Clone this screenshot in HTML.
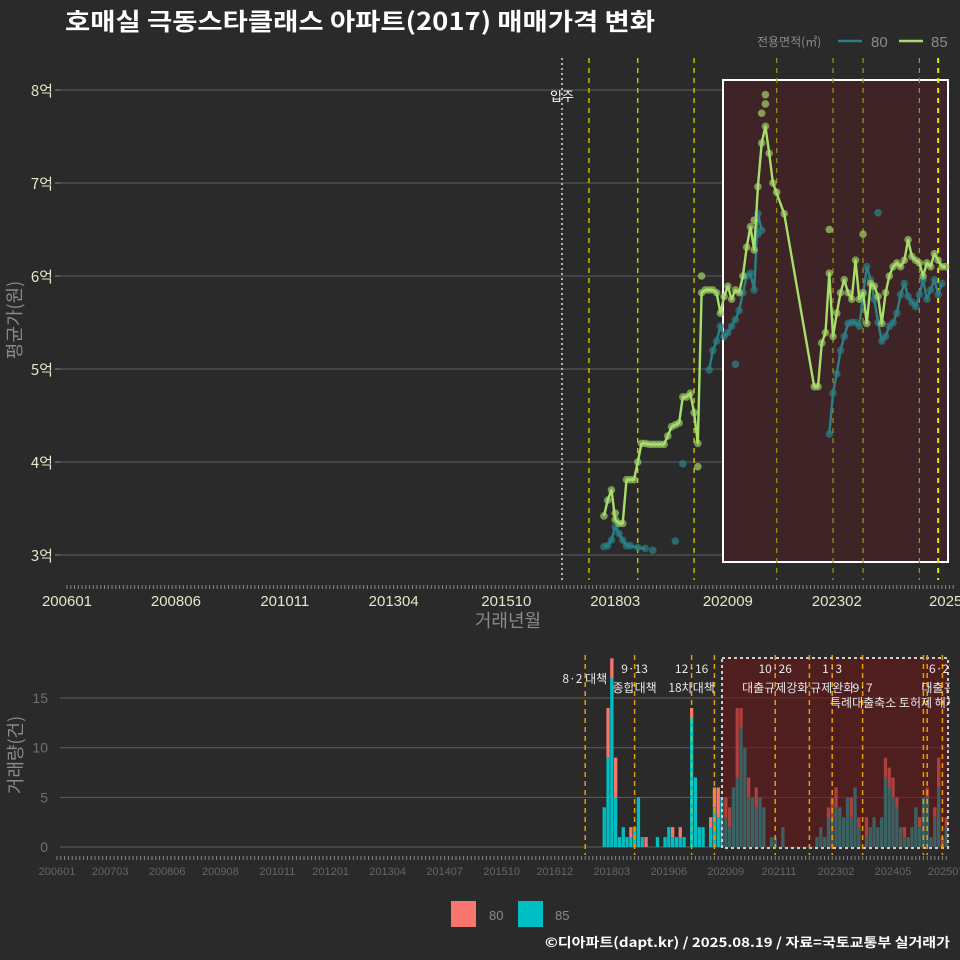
<!DOCTYPE html>
<html><head><meta charset="utf-8">
<style>
html,body{margin:0;padding:0;background:#2a2a2b;}
svg{display:block;font-family:"Liberation Sans","Noto Sans CJK KR",sans-serif;}
</style></head>
<body>
<svg id="chart" width="960" height="960" viewBox="0 0 960 960">
<rect x="0" y="0" width="960" height="960" fill="#2a2a2b"/>
<text x="65" y="30" fill="#ffffff" font-size="24" font-weight="bold" font-family="Noto Sans CJK KR, sans-serif" textLength="590" lengthAdjust="spacingAndGlyphs">호매실 극동스타클래스 아파트(2017) 매매가격 변화</text>
<g>
<text x="757" y="46" fill="#8a8a8a" font-size="12" font-family="Noto Sans CJK KR, sans-serif">전용면적(㎡)</text>
<line x1="838" y1="41" x2="862" y2="41" stroke="#2b7f86" stroke-width="2.5"/>
<text x="871" y="47" fill="#8a8a8a" font-size="15">80</text>
<line x1="899" y1="41" x2="923" y2="41" stroke="#a6e06b" stroke-width="2.5"/>
<text x="931" y="47" fill="#8a8a8a" font-size="15">85</text>
</g>
<g id="topPanel"></g>
<g id="botPanel"></g>
<g>
<rect x="451" y="901" width="25" height="26" fill="#f8766d"/>
<text x="489" y="920" fill="#8a8a8a" font-size="13">80</text>
<rect x="518" y="901" width="25" height="26" fill="#00bfc4"/>
<text x="555" y="920" fill="#8a8a8a" font-size="13">85</text>
</g>
<text x="545" y="947" fill="#ffffff" font-size="13" font-weight="bold" font-family="Noto Sans CJK KR, sans-serif" textLength="405" lengthAdjust="spacingAndGlyphs">©디아파트(dapt.kr) / 2025.08.19 / 자료=국토교통부 실거래가</text>
</svg>
<script>
const months85 = ["201712","201801","201802","201803","201804","201805","201806","201807","201808","201809","201810","201811","201812","201901","201902","201903","201904","201905","201906","201907","201908","201909","201910","201911","201912","202001","202002","202003","202004","202005","202006","202007","202008","202009","202010","202011","202012","202101","202102","202103","202104","202105","202106","202107","202108","202109","202112","202208","202209","202210","202211","202212","202301","202302","202303","202304","202305","202306","202307","202308","202309","202310","202311","202312","202401","202402","202403","202404","202405","202406","202407","202408","202409","202410","202411","202412","202501","202502","202503","202504","202505","202506","202507"];
const price85 = [3.42,3.59,3.70,3.38,3.34,3.34,3.81,3.81,3.81,4.0,4.2,4.2,4.19,4.19,4.19,4.19,4.19,4.28,4.38,4.40,4.42,4.70,4.70,4.74,4.53,4.2,5.82,5.85,5.85,5.85,5.82,5.6,5.78,5.89,5.75,5.85,5.82,6.0,6.31,6.53,6.28,6.96,7.43,7.61,7.32,7.0,6.67,4.81,4.81,5.28,5.39,6.03,5.35,5.6,5.82,5.96,5.82,5.75,6.17,5.75,5.82,5.49,5.92,5.89,5.78,5.49,5.82,6.0,6.1,6.14,6.1,6.17,6.39,6.21,6.17,6.14,6.0,6.14,6.1,6.24,6.17,6.1,6.1];
const months80 = ["201712","201801","201802","201803","201804","201805","201806","201807","201809","201811","202004","202005","202006","202007","202008","202009","202010","202011","202012","202101","202102","202103","202104","202105","202106","202212","202301","202302","202303","202304","202305","202306","202307","202308","202309","202310","202311","202312","202401","202402","202403","202404","202405","202406","202407","202408","202409","202410","202411","202412","202501","202502","202503","202504","202505","202506"];
const price80 = [3.09,3.1,3.16,3.3,3.23,3.16,3.1,3.1,3.08,3.07,4.99,5.2,5.3,5.46,5.35,5.39,5.46,5.53,5.63,5.82,6.0,6.03,5.85,6.67,6.49,4.3,4.74,4.95,5.2,5.35,5.49,5.5,5.5,5.46,5.8,6.1,5.96,5.75,5.5,5.3,5.35,5.46,5.5,5.6,5.8,5.92,5.78,5.72,5.67,5.8,5.96,5.75,5.85,5.96,5.8,5.92];
const extraMonths85 = ["202107","202107","202106","202212","202309","202110","202001","201803","202002","202104"];
const extraPrice85 = [7.95,7.85,7.75,6.5,6.45,6.9,3.95,3.45,6.0,6.6];
const extraMonths80 = ["202401","201909","201901","201907","202105","202011"];
const extraPrice80 = [6.68,3.98,3.05,3.15,6.45,5.05];
const priceTicks = [3,4,5,6,7,8];
const priceTickLabels = ["3억","4억","5억","6억","7억","8억"];
const xTickMonthsTop = ["200601","200806","201011","201304","201510","201803","202009","202302","202507"];
const xTickLabelsTop = ["200601","200806","201011","201304","201510","201803","202009","202302","2025"];
const topPolicyMonths = ["201708","201809","201912","202110","202301","202309","202412","202505"];

const volMonths = ["201801","201802","201803","201804","201805","201806","201807","201808","201809","201810","201811","201812","201903","201905","201906","201907","201908","201909","201910","201912","202001","202002","202003","202005","202006","202007","202008","202009","202010","202011","202012","202101","202102","202103","202104","202105","202106","202107","202109","202110","202112","202209","202210","202211","202212","202301","202302","202303","202304","202305","202306","202307","202308","202310","202311","202312","202401","202402","202403","202404","202405","202406","202407","202408","202409","202410","202411","202412","202501","202502","202503","202504","202505","202506","202507"];
const vol85 = [4,9,17,5,1,2,1,1,2,5,1,0,1,1,2,1,1,1,1,13,7,2,2,2,4,3,5,3,2,6,7,12,10,5,5,4,5,4,1,1,2,1,2,1,3,3,4,4,3,5,3,6,2,1,2,3,2,3,7,6,5,4,2,1,1,2,4,2,5,5,1,3,6,0,2];
const vol80 = [0,5,2,4,0,0,0,1,0,0,0,1,0,0,0,1,0,1,0,1,0,0,0,1,2,3,0,2,2,0,7,2,0,2,0,2,0,0,0,0,0,0,0,0,1,2,2,0,0,0,2,0,1,2,0,0,0,0,2,2,2,1,0,1,0,0,0,1,0,1,0,1,3,1,1];
const volTicks = [0,5,10,15];
const xTickMonthsBot = ["200601","200703","200806","200908","201011","201201","201304","201407","201510","201612","201803","201906","202009","202111","202302","202405","202507"];
const policyMonths = ["201708","201809","201912","202006","202110","202207","202301","202309","202501","202502","202506"];
const policyDates = ["8·2 대책","9·13","12·16","","10·26","","1·3","","","","6·27"];
const policyNames = ["","종합대책","18차대책","","대출규제강화","","규제완화","9·7","","","대출규제"];

const NS = "http://www.w3.org/2000/svg";
function mk(parent, tag, attrs){const e=document.createElementNS(NS,tag);for(const k in attrs)e.setAttribute(k,attrs[k]);parent.appendChild(e);return e;}
function mIdx(s){return (parseInt(s.slice(0,4))-2006)*12+parseInt(s.slice(4,6))-1;}

// ---------- top panel ----------
const topG = document.getElementById("topPanel");
const tx = m => 67 + mIdx(m)*3.755;
const ty = p => 90 + (8-p)*93;
priceTicks.forEach((t,i)=>{
  const g = mk(topG,"line",{x1:60,x2:950,y1:ty(t),y2:ty(t),stroke:"#5e5e5e","stroke-width":1});
  
  
  const tk = mk(topG,"line",{x1:55,x2:60,y1:ty(t),y2:ty(t),stroke:"#888"});
  
  
  const lb = mk(topG,"text",{x:53,y:ty(t)+6,"text-anchor":"end",fill:"#e6e6c8","font-size":15,"font-family":"Noto Sans CJK KR, sans-serif"});
  lb.textContent = priceTickLabels[i];
  
  
});
for(let m=0;m<=236;m++){
  const t = mk(topG,"line",{x1:67+m*3.755,x2:67+m*3.755,y1:585,y2:589,stroke:"#888","stroke-width":1});
  
  
}
xTickMonthsTop.forEach((m,i)=>{
  const lb = mk(topG,"text",{x:tx(m),y:606,"text-anchor":"middle",fill:"#e6e6c8","font-size":15});
  lb.textContent = xTickLabelsTop[i];
  
  
});
const xt = mk(topG,"text",{x:508,y:627,"text-anchor":"middle",fill:"#8a8a8a","font-size":18,"font-family":"Noto Sans CJK KR, sans-serif"});
xt.textContent="거래년월";


const yt = mk(topG,"text",{x:0,y:0,transform:"translate(21,320) rotate(-90)","text-anchor":"middle",fill:"#8a8a8a","font-size":18,"font-family":"Noto Sans CJK KR, sans-serif"});
yt.textContent="평균가(원)";


const hb = mk(topG,"rect",{x:723,y:80,width:225,height:482,fill:"#3f2427",stroke:"#ffffff","stroke-width":2});


const mv = mk(topG,"line",{x1:562,x2:562,y1:58,y2:580,stroke:"#dddddd","stroke-width":1.5,"stroke-dasharray":"2,3"});


const mvt = mk(topG,"text",{x:562,y:101,"text-anchor":"middle",fill:"#ffffff","font-size":13,"font-family":"Noto Sans CJK KR, sans-serif"});
mvt.textContent="입주";


topPolicyMonths.forEach((m,i)=>{
  const inside = tx(m)>723 && tx(m)<935;
  const l = mk(topG,"line",{x1:tx(m),x2:tx(m),y1:58,y2:580,stroke:inside?"#9a9a20":"#e6e600","stroke-width":i==topPolicyMonths.length-1?2:1.2,"stroke-dasharray":"5,5"});
  
  
});
function drawSeries(months, prices, color, dotColor, name){
  let d="", prev=null;
  months.forEach((m,i)=>{
    const mi=mIdx(m);
    d += (prev===null||mi-prev>12?"M":"L")+tx(m).toFixed(1)+","+ty(prices[i]).toFixed(1)+" ";
    prev=mi;
  });
  months.forEach((m,i)=>{
    const c = mk(topG,"circle",{cx:tx(m),cy:ty(prices[i]),r:3.8,fill:dotColor,"fill-opacity":0.7});
    
    
  });
  const p = mk(topG,"path",{d:d,fill:"none",stroke:color,"stroke-width":2.4,"stroke-linejoin":"round"});
  
  
}
extraMonths80.forEach((m,i)=>{
  const c = mk(topG,"circle",{cx:tx(m),cy:ty(extraPrice80[i]),r:3.8,fill:"#2b7f86","fill-opacity":0.75});
  
  
});
drawSeries(months80, price80, "#2b7f86", "#2b7f86", "80");
extraMonths85.forEach((m,i)=>{
  const c = mk(topG,"circle",{cx:tx(m),cy:ty(extraPrice85[i]),r:3.8,fill:"#9cc866","fill-opacity":0.75});
  
  
});
drawSeries(months85, price85, "#a6e06b", "#9cc866", "85");

// ---------- bottom panel ----------
const botG = document.getElementById("botPanel");
const bx = m => 57 + mIdx(m)*3.8;
const by = v => 847 - v*9.93;
volTicks.forEach(t=>{
  const g = mk(botG,"line",{x1:60,x2:950,y1:by(t),y2:by(t),stroke:"#5e5e5e","stroke-width":1});
  
  
  const lb = mk(botG,"text",{x:48,y:by(t)+5,"text-anchor":"end",fill:"#707070","font-size":14});
  lb.textContent = t;
  
  
});
const yt2 = mk(botG,"text",{x:0,y:0,transform:"translate(22,755) rotate(-90)","text-anchor":"middle",fill:"#8a8a8a","font-size":18,"font-family":"Noto Sans CJK KR, sans-serif"});
yt2.textContent="거래량(건)";


for(let m=0;m<=234;m++){
  const t = mk(botG,"line",{x1:57+m*3.8,x2:57+m*3.8,y1:856,y2:860,stroke:"#888","stroke-width":1});
  
  
}
xTickMonthsBot.forEach(m=>{
  const lb = mk(botG,"text",{x:bx(m),y:875,"text-anchor":"middle",fill:"#666","font-size":11});
  lb.textContent = m;
  
  
});
volMonths.forEach((m,i)=>{
  const x = bx(m)-1.6;
  const r1 = mk(botG,"rect",{x:x,y:by(vol85[i]),width:3.3,height:vol85[i]*9.93,fill:"#00bfc4"});
  
  
  const r2 = mk(botG,"rect",{x:x,y:by(vol85[i]+vol80[i]),width:3.3,height:vol80[i]*9.93,fill:"#f8766d"});
  
  
});
const hb2 = mk(botG,"rect",{x:722,y:658,width:226,height:190,fill:"#6e1414","fill-opacity":0.55,stroke:"#cccccc","stroke-width":2,"stroke-dasharray":"3,3"});


const defs = mk(botG,"defs",{});
const cp = mk(defs,"clipPath",{id:"bc"});
mk(cp,"rect",{x:0,y:640,width:950,height:230});
const pl = mk(botG,"g",{"clip-path":"url(#bc)"});


policyMonths.forEach((m,i)=>{
  const l = mk(pl,"line",{x1:bx(m),x2:bx(m),y1:655,y2:855,stroke:"#e6a000","stroke-width":1.5,"stroke-dasharray":"5,4"});
  
  
});
const lg = mk(botG,"g",{"clip-path":"url(#bc)","font-family":"Noto Sans CJK KR, sans-serif"});


policyMonths.forEach((m,i)=>{
  if(policyDates[i]){
    const a = i==0 ? {x:bx(m)+22,y:683,"text-anchor":"end"} : {x:bx(m),y:673,"text-anchor":"middle"};
    const t = mk(lg,"text",Object.assign(a,{fill:"#e8e8e8","font-size":12}));
    t.textContent = policyDates[i];
    
    
  }
  if(policyNames[i]){
    const last = i==policyMonths.length-1;
    const t = mk(lg,"text",{x:last?bx(m)-21:bx(m),y:692,"text-anchor":last?"start":"middle",fill:"#e8e8e8","font-size":12});
    t.textContent = policyNames[i];
    
    
  }
});
const extra = mk(lg,"text",{x:830,y:707,fill:"#e8e8e8","font-size":12});
extra.textContent="특례대출축소 토허제 해제";


</script>
</body></html>
